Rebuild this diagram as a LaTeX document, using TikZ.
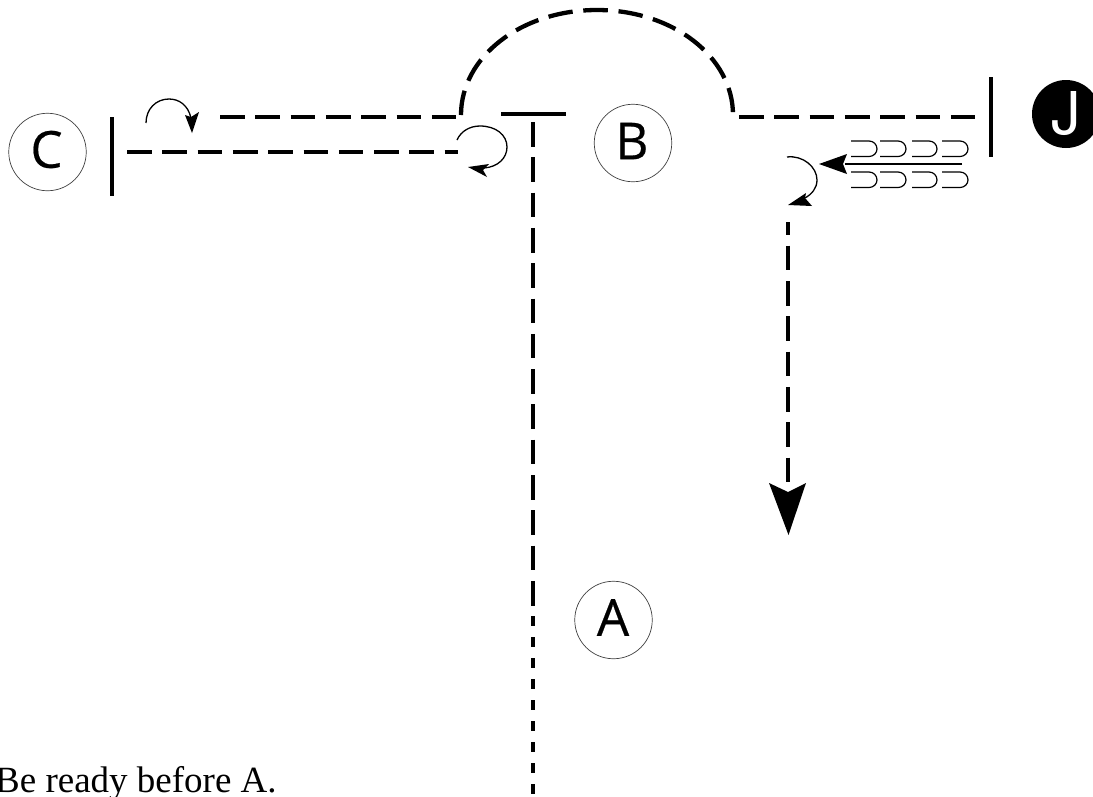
\documentclass[tikz,border=0pt]{standalone}
\usepackage{fontspec}
\setmainfont{Liberation Serif}
\newfontfamily\lab[FakeBold=0.4]{Open Sans}
\newfontfamily\jlab{TeX Gyre Heros}
\tikzset{
  dashline/.style={line width=4.3pt,dash pattern=on 24.6pt off 10.7pt},
  shortdash/.style={line width=4.3pt,dash pattern=on 10.4pt off 10.6pt},
  barline/.style={line width=4.2pt},
  ring/.style={circle,draw=black!75,line width=0.7pt,minimum size=77.5pt,inner sep=0pt},
  ringtext/.style={inner sep=0pt,font=\lab\fontsize{51}{51}\selectfont},
  curl/.style={line width=1.3pt},
  hook/.style={line width=1.2pt}
}
\begin{document}
\begin{tikzpicture}[x=1pt,y=-1pt]
\path[use as bounding box] (0,0) rectangle (1093,796);
% labelled rings
\node[ring] (C) at (47.5,152) {};
\node[ring] (B) at (633,143) {};
\node[ring] (A) at (613.5,620) {};
\node[ringtext] (Ct) at (46.5,149.5) {C};
\node[ringtext] (Bt) at (632,141) {B};
\node[ringtext] (At) at (613,617.5) {A};
\node[circle,fill=black,minimum size=68pt,inner sep=0pt] (J) at (1066,114) {};
\node[inner sep=0pt,text=white,font=\jlab\fontsize{59}{59}\selectfont] (Jt) at (1066,114) {J};
% bars
\coordinate (cbarT) at (112,117); \coordinate (cbarB) at (112,196);
\coordinate (jbarT) at (991,77); \coordinate (jbarB) at (991,157);
\coordinate (tL) at (501,114); \coordinate (tR) at (566,114);
\draw[barline] (cbarT) -- (cbarB);
\draw[barline] (jbarT) -- (jbarB);
\draw[barline] (tL) -- (tR);
% dashed lines
\coordinate (c1) at (127,152); \coordinate (c2) at (458,152);
\coordinate (u1) at (220,117); \coordinate (u2) at (457,117);
\coordinate (r1) at (739,117); \coordinate (r2) at (976,117);
\coordinate (v1) at (533,122); \coordinate (v2) at (533,606.5);
\coordinate (v3) at (533,616); \coordinate (v4) at (533,796);
\draw[dashline] (c1) -- (c2);
\draw[dashline] (u1) -- (u2);
\draw[dashline] (r1) -- (r2);
\draw[dashline] (v1) -- (v2);
\draw[shortdash] (v3) -- (v4);
% arc
\coordinate (a1) at (461,115); \coordinate (a2) at (733,115);
\draw[dashline] (a1) .. controls (461,57) and (521,10) .. (597,10) .. controls (673,10) and (733,57) .. (a2);
% long arrow
\coordinate (d1) at (788,222); \coordinate (d2) at (788,482.5);
\draw[line width=4.3pt,dash pattern=on 24.6pt off 10.7pt,dash phase=11.6pt] (d1) -- (d2);
\coordinate (dt) at (788.5,535);
\fill (dt) -- (769,483) -- (788,492) -- (806,483) -- cycle;
% curl top-left
\coordinate (k1) at (146,123); \coordinate (k2) at (191,118);
\draw[curl] (k1) .. controls (146,109) and (156,99) .. (169,99) .. controls (179,99) and (188,105) .. (k2);
\fill (192,133) -- (185,115) -- (191,117) -- (199,112) -- cycle;
% curl middle
\coordinate (m1) at (457,140); \coordinate (m2) at (484,168);
\draw[curl] (m1) .. controls (461,131) and (470,126) .. (480,126) .. controls (496,126) and (507,135) .. (507,147) .. controls (507,158) and (498,167) .. (m2);
\fill (468,167) -- (489,164) -- (483,170) -- (487,177) -- cycle;
% curl right
\coordinate (n1) at (787,157); \coordinate (n2) at (805,198);
\draw[curl] (n1) .. controls (803,155) and (817,167) .. (817,180) .. controls (817,188) and (812,194) .. (n2);
\fill (788,205) -- (806,193) -- (805,198) -- (812,206) -- cycle;
% hairpins
\foreach \xa/\xb in {851/877,880/906,912/937,942/968}{
  \foreach \ya in {141,172}{
    \draw[hook] (\xa,\ya) -- (\xb-8,\ya) .. controls (\xb-3.5,\ya) and (\xb,\ya+3.5) .. (\xb,\ya+8) .. controls (\xb,\ya+12) and (\xb-3.5,\ya+15.5) .. (\xb-8,\ya+15.5) -- (\xa,\ya+15.5);
  }
}
\coordinate (s1) at (962,164); \coordinate (s2) at (845,164);
\draw[line width=1.4pt] (s1) -- (s2);
\fill (819,164) -- (847,154) -- (843,164) -- (847,174) -- cycle;
% caption
\node[anchor=base west,inner sep=0pt,font=\fontsize{37}{37}\selectfont] (cap) at (-5,792) {Be ready before A.};
\end{tikzpicture}
\end{document}
